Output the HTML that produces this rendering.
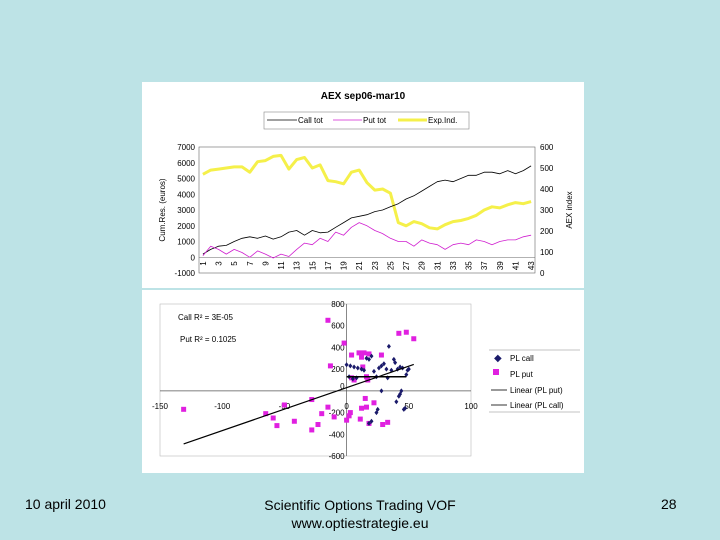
<!DOCTYPE html>
<html><head><meta charset="utf-8"><style>
body{margin:0;width:720px;height:540px;background:#bde3e6;position:relative;overflow:hidden;font-family:"Liberation Sans",sans-serif}
.ft{position:absolute;font-size:14px;color:#000}
</style></head><body>
<svg id="s" width="720" height="540" style="position:absolute;left:0;top:0" font-family="Liberation Sans, sans-serif">
<rect x="142" y="82" width="442" height="391" fill="#fff"/>
<line x1="142" y1="289" x2="584" y2="289" stroke="#bde3e6" stroke-width="2"/>
<text x="363" y="99" font-size="10" font-weight="bold" text-anchor="middle">AEX sep06-mar10</text>
<g>
<rect x="264" y="112" width="205" height="17" fill="#fff" stroke="#888" stroke-width="0.6"/>
<line x1="267" y1="120" x2="297" y2="120" stroke="#000" stroke-width="0.8"/><text x="298" y="123" font-size="8">Call tot</text>
<line x1="333" y1="120" x2="362" y2="120" stroke="#d020d0" stroke-width="0.8"/><text x="363" y="123" font-size="8">Put tot</text>
<line x1="398" y1="120" x2="427" y2="120" stroke="#f5f04a" stroke-width="3"/><text x="428" y="123" font-size="8">Exp.Ind.</text>
</g>
<g id="topg"></g>
<g id="bot"></g>
<g>
<line x1="489" y1="350" x2="580" y2="350" stroke="#888" stroke-width="0.6"/>
<line x1="489" y1="412" x2="580" y2="412" stroke="#888" stroke-width="0.6"/>
<text x="494" y="361" font-size="10" fill="#1a1a6a">◆</text><text x="510" y="361" font-size="8">PL call</text>
<rect x="493" y="369" width="6" height="6" fill="#e020e0"/><text x="510" y="377" font-size="8">PL put</text>
<line x1="491" y1="390" x2="507" y2="390" stroke="#333"/><text x="510" y="393" font-size="8">Linear (PL put)</text>
<line x1="491" y1="405" x2="507" y2="405" stroke="#333"/><text x="510" y="408" font-size="8">Linear (PL call)</text>
</g>
<text x="178" y="320" font-size="8">Call R² = 3E-05</text>
<text x="180" y="342" font-size="8">Put R² = 0.1025</text>
</svg>
<div class="ft" style="left:25px;top:496px">10 april 2010</div>
<div class="ft" style="left:200px;width:320px;top:496px;text-align:center;line-height:18px">Scientific Options Trading VOF<br>www.optiestrategie.eu</div>
<div class="ft" style="left:661px;top:496px">28</div>
<script>
const callTot=[200,500,700,750,1000,1200,1300,1200,1350,1150,1300,1600,1700,1400,1700,1550,1600,1900,2200,2500,2600,2700,2900,3000,3200,3400,3700,3900,4200,4500,4800,4900,4800,5000,5200,5200,5400,5400,5300,5500,5300,5500,5800];
const putTot=[100,700,500,200,500,300,0,400,200,-50,200,50,500,900,800,1200,1000,1600,1400,1900,2200,2000,1700,1500,1200,1000,1000,700,1100,900,800,500,800,900,800,1100,1000,800,1000,1100,1100,1300,1400];
const expInd=[470,490,495,500,505,505,480,530,535,555,560,495,540,550,500,515,440,435,425,480,490,430,395,400,380,240,225,245,235,215,210,230,245,250,260,275,300,315,310,325,335,330,340];
const leftTicks=[-1000,0,1000,2000,3000,4000,5000,6000,7000];
const rightTicks=[0,100,200,300,400,500,600];
const plCall=[[0,240],[3,230],[6,220],[9,210],[12,200],[14,190],[16,300],[18,290],[20,320],[22,180],[24,130],[26,210],[28,230],[30,250],[32,200],[24,-200],[25,-170],[28,0],[33,120],[34,410],[36,190],[38,290],[39,260],[41,200],[43,220],[45,210],[40,-100],[42,-50],[43,-30],[44,0],[46,-170],[47,-160],[48,150],[49,190],[50,200],[2,130],[5,110],[8,120],[18,-300],[20,-280]];
const plPut=[[-131,-170],[-65,-210],[-59,-250],[-56,-320],[-50,-130],[-42,-280],[-28,-80],[-28,-360],[-23,-310],[-20,-210],[-15,-150],[-15,650],[-13,230],[-10,-240],[-2,440],[0,-270],[2,-230],[3,-200],[4,330],[4,120],[6,100],[10,350],[11,-260],[12,-160],[12,310],[13,220],[14,350],[15,-70],[16,-150],[16,130],[17,100],[18,340],[18,-300],[22,-110],[28,330],[29,-310],[33,-290],[42,530],[48,540],[54,480]];
const putTrend=[[-131,-489],[54,243]];
const callTrend=[[0,130],[48,130]];
const xTicksB=[-150,-100,-50,0,50,100];
const yTicksB=[-600,-400,-200,0,200,400,600,800];
const NS='http://www.w3.org/2000/svg';
function mk(p,t,a,txt){const e=document.createElementNS(NS,t);for(const k in a)e.setAttribute(k,a[k]);if(txt!==undefined)e.textContent=txt;p.appendChild(e);return e;}
const topG=document.getElementById('topg'),bot=document.getElementById('bot');
const X0=199,X1=535,Y0=147,Y1=273;
const xs=i=>X0+(i+0.5)*(X1-X0)/43;
const yl=v=>Y1-(v+1000)/8000*(Y1-Y0);
const yr=v=>Y1-v/600*(Y1-Y0);
let e=mk(topG,'rect',{x:X0,y:Y0,width:X1-X0,height:Y1-Y0,fill:'none',stroke:'#666','stroke-width':0.6});

e=mk(topG,'line',{x1:X0,x2:X1,y1:yl(0),y2:yl(0),stroke:'#666','stroke-width':0.6});

leftTicks.forEach(v=>{e=mk(topG,'text',{x:X0-4,y:yl(v)+3,'font-size':8,'text-anchor':'end'},v);
});
rightTicks.forEach(v=>{e=mk(topG,'text',{x:X1+5,y:yr(v)+3,'font-size':8},v);
});
for(let i=0;i<43;i+=2){e=mk(topG,'text',{x:0,y:0,'font-size':8,'text-anchor':'end',transform:`translate(${xs(i)+3},${yl(0)+4}) rotate(-90)`},i+1);
}
e=mk(topG,'text',{'font-size':8,'text-anchor':'middle',transform:`translate(165,210) rotate(-90)`},'Cum.Res. (euros)');

e=mk(topG,'text',{'font-size':8,'text-anchor':'middle',transform:`translate(572,210) rotate(-90)`},'AEX index');

function poly(arr,f,col,w,name){const p=arr.map((v,i)=>xs(i).toFixed(1)+','+f(v).toFixed(1)).join(' ');
const el=mk(topG,'polyline',{points:p,fill:'none',stroke:col,'stroke-width':w,'stroke-linejoin':'round'});
}
poly(expInd,yr,'#f5f04a',3,'exp-ind-line');
poly(callTot,yl,'#000',0.8,'call-tot-line');
poly(putTot,yl,'#d020d0',0.8,'put-tot-line');
const BX0=160,BX1=471,BY0=304,BY1=456;
const bx=v=>BX0+(v+150)/250*(BX1-BX0);
const by=v=>BY1-(v+600)/1400*(BY1-BY0);
e=mk(bot,'rect',{x:BX0,y:BY0,width:BX1-BX0,height:BY1-BY0,fill:'none',stroke:'#bbb','stroke-width':0.6});

e=mk(bot,'line',{x1:BX0,x2:BX1,y1:by(0),y2:by(0),stroke:'#555','stroke-width':0.7});

e=mk(bot,'line',{x1:bx(0),x2:bx(0),y1:BY0,y2:BY1,stroke:'#555','stroke-width':0.7});

xTicksB.forEach(v=>{e=mk(bot,'text',{x:bx(v),y:by(0)+18,'font-size':8,'text-anchor':'middle'},v);
});
yTicksB.forEach(v=>{if(v===0)return;e=mk(bot,'text',{x:bx(0)-2,y:by(v)+3,'font-size':8,'text-anchor':'end'},v);
});
e=mk(bot,'text',{x:bx(0)-2,y:by(0)-2,'font-size':8,'text-anchor':'end'},'0');

plPut.forEach(p=>{e=mk(bot,'rect',{x:bx(p[0])-2.5,y:by(p[1])-2.5,width:5,height:5,fill:'#e020e0'});
});
plCall.forEach(p=>{const cx=bx(p[0]),cy=by(p[1]);e=mk(bot,'polygon',{points:`${cx},${cy-2.5} ${cx+2},${cy} ${cx},${cy+2.5} ${cx-2},${cy}`,fill:'#1a1a6a'});
});
e=mk(bot,'line',{x1:bx(putTrend[0][0]),y1:by(putTrend[0][1]),x2:bx(putTrend[1][0]),y2:by(putTrend[1][1]),stroke:'#000','stroke-width':1.2});

e=mk(bot,'line',{x1:bx(callTrend[0][0]),y1:by(callTrend[0][1]),x2:bx(callTrend[1][0]),y2:by(callTrend[1][1]),stroke:'#000','stroke-width':1.5});

</script>
</body></html>
